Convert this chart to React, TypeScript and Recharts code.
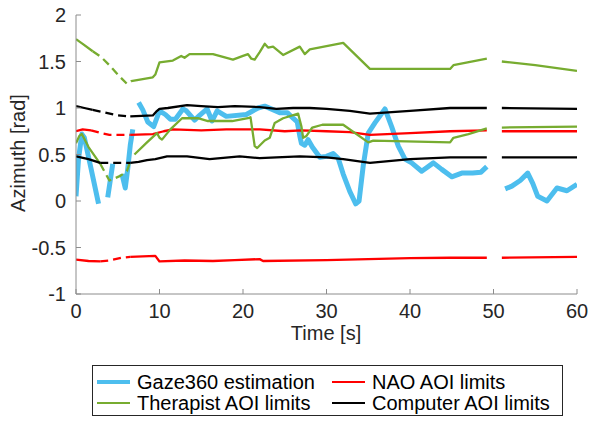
import { LineChart, Line, XAxis, YAxis } from "recharts";

type Pt = [number, number | null];

const BLUE = "#4DBEEE";
const GREEN = "#77AC30";
const RED = "#FF0000";
const BLACK = "#000000";
const AXIS = "#8c8c8c";
const TEXT = "#262626";
const FONT = "'Liberation Sans', Arial, Helvetica, sans-serif";

const xTicks = [0, 10, 20, 30, 40, 50, 60];
const yTicks = [-1, -0.5, 0, 0.5, 1, 1.5, 2];

// Gaze360 estimation (null = gap in the estimate)
const gaze: Pt[] = [
  [0, 0.05], [0.3, 0.45], [0.7, 0.72], [1.0, 0.68], [1.8, 0.35], [2.7, -0.03], [3.2, null],
  [3.8, 0.04], [4.1, 0.22], [4.4, 0.4], [4.9, null],
  [5.5, 0.29], [5.9, 0.14], [6.2, 0.35], [6.5, 0.6], [6.8, 0.77], [7.1, null],
  [7.5, 1.06], [8.0, 0.98], [8.6, 0.85], [9.3, 0.8], [10.0, 0.97], [10.7, 0.93], [11.3, 0.88],
  [11.9, 0.88], [12.8, 0.99], [13.2, 0.97], [14.2, 0.87], [14.8, 0.92], [15.7, 0.99], [16.3, 0.86],
  [16.9, 0.97], [18.0, 0.91], [20.4, 0.93], [21.8, 1.0], [22.6, 1.02], [24.4, 0.95], [25.3, 0.95],
  [26.0, 0.89], [26.5, 0.85], [26.8, 0.7], [27.0, 0.62], [27.4, 0.6], [27.8, 0.66], [28.3, 0.58],
  [29.2, 0.47], [30.0, 0.48], [30.8, 0.51], [31.4, 0.46], [32.0, 0.29], [32.8, 0.1], [33.5, -0.03],
  [33.9, 0.0], [34.4, 0.38], [35.0, 0.73], [35.8, 0.84], [37.0, 0.99], [37.8, 0.8], [38.6, 0.59],
  [39.4, 0.45], [40.2, 0.41], [41.4, 0.32], [42.8, 0.41], [43.8, 0.34], [45.0, 0.26], [46.2, 0.3],
  [47.5, 0.3], [48.5, 0.31], [49.2, 0.37], [50.2, null],
  [51.4, 0.13], [52.2, 0.16], [53.2, 0.22], [54.1, 0.3], [54.7, 0.19], [55.3, 0.05], [56.4, 0.0],
  [57.6, 0.14], [58.8, 0.11], [60, 0.18],
];

// NAO AOI limits
const naoHigh: Pt[] = [
  [0, 0.75], [0.8, 0.77], [1.8, 0.76], [2.2, null],
  [6.5, 0.71], [9.2, 0.72], [10.5, 0.75], [11.6, 0.77], [15, 0.76], [18, 0.77], [22, 0.77],
  [25, 0.75], [27, 0.76], [30, 0.75], [32.8, 0.74], [35.2, 0.71], [40, 0.73], [44.8, 0.75],
  [49.2, 0.76], [50.2, null], [51, 0.75], [60, 0.75],
];
const naoHighDash: Pt[] = [[1.8, 0.76], [3.0, 0.73], [4.0, 0.71], [6.5, 0.71]];

const naoLow: Pt[] = [
  [0, -0.63], [1.5, -0.645], [2.9, -0.65], [3.2, null],
  [6.5, -0.6], [9.5, -0.59], [10.0, -0.65], [13, -0.64], [16.4, -0.645], [19, -0.635],
  [22, -0.625], [22.4, -0.645], [30, -0.635], [40, -0.615], [44.8, -0.61], [49.2, -0.61],
  [50.2, null], [51, -0.61], [60, -0.6],
];
const naoLowDash: Pt[] = [[2.9, -0.65], [4.0, -0.64], [5.5, -0.61], [6.5, -0.6]];

// Therapist AOI limits
const therapistHigh: Pt[] = [
  [0, 1.74], [0.8, 1.69], [2.0, 1.61], [2.4, null],
  [6.6, 1.29], [7.3, 1.3], [9.2, 1.33], [9.5, 1.36], [10.0, 1.49], [11.6, 1.51], [12.6, 1.56],
  [13.0, 1.54], [13.6, 1.58], [16.4, 1.58], [18.8, 1.52], [20.0, 1.56], [20.6, 1.58], [21.0, 1.53],
  [21.4, 1.52], [22.0, 1.6], [22.6, 1.69], [23.0, 1.65], [23.6, 1.66], [24.8, 1.57], [26.8, 1.66],
  [27.4, 1.58], [28.0, 1.63], [32.0, 1.7], [35.2, 1.42], [44.8, 1.42], [45.2, 1.46], [49.2, 1.53],
  [50.2, null], [51.0, 1.5], [55, 1.46], [60, 1.4],
];
const therapistHighDash: Pt[] = [[2.0, 1.61], [3.0, 1.55], [4.0, 1.46], [5.0, 1.36], [6.1, 1.26], [6.6, 1.29]];

const therapistLow: Pt[] = [
  [0, 0.62], [0.4, 0.7], [0.7, 0.72], [1.5, 0.58], [2.9, 0.4], [3.2, null],
  [7.0, 0.5], [8.5, 0.63], [9.7, 0.73], [10.0, 0.68], [10.3, 0.66], [11.3, 0.77], [12.7, 0.89],
  [14.6, 0.89], [15.8, 0.86], [18.7, 0.86], [20.6, 0.89], [20.9, 0.9], [21.4, 0.59], [21.7, 0.57],
  [22.6, 0.65], [23.2, 0.68], [23.8, 0.84], [24.8, 0.89], [26.6, 0.94], [27.0, 0.8], [27.2, 0.68],
  [27.6, 0.7], [28.3, 0.79], [29.5, 0.82], [32.0, 0.82], [35.0, 0.63], [35.6, 0.65], [44.8, 0.63],
  [45.2, 0.68], [47, 0.72], [49.2, 0.78], [50.2, null], [51, 0.79], [60, 0.8],
];
const therapistLowDash: Pt[] = [[2.9, 0.4], [4.0, 0.22], [5.3, 0.27], [6.1, 0.32], [6.4, 0.4]];

// Computer AOI limits
const computerHigh: Pt[] = [
  [0, 1.02], [1.0, 1.0], [2.0, 0.98], [2.4, null],
  [6.5, 0.91], [9.2, 0.92], [9.6, 0.96], [10.0, 0.99], [11.0, 1.0], [13.3, 1.03], [15, 1.02],
  [17, 1.01], [19, 1.02], [22.0, 1.01], [24, 0.99], [26, 1.0], [28, 1.0], [30, 0.99], [32.8, 0.97],
  [35.2, 0.94], [40, 0.97], [44.8, 1.0], [49.2, 1.0], [50.2, null], [51, 1.0], [60, 0.99],
];
const computerHighDash: Pt[] = [[2.0, 0.98], [3.5, 0.95], [5.0, 0.92], [6.5, 0.91]];

const computerLow: Pt[] = [
  [0, 0.48], [1.5, 0.45], [2.9, 0.41], [3.2, null],
  [6.5, 0.41], [7.5, 0.42], [8.5, 0.44], [9.5, 0.45], [10.9, 0.48], [13.3, 0.48], [16, 0.45],
  [19.6, 0.48], [22, 0.46], [24, 0.47], [26.8, 0.48], [30, 0.47], [32, 0.45], [35.2, 0.41],
  [40, 0.45], [44.8, 0.47], [49.2, 0.47], [50.2, null], [51, 0.47], [60, 0.47],
];
const computerLowDash: Pt[] = [[2.9, 0.41], [4.5, 0.41], [6.5, 0.41]];

const pts = (arr: Pt[]) => arr.map(([t, v]) => ({ t, v }));

const XTick = (props: any) => {
  const { x, y, payload } = props;
  return (
    <g>
      <line x1={x} x2={x} y1={y - 8} y2={y - 13} stroke={AXIS} />
      <text x={x} y={y} dy={16} textAnchor="middle" fontSize={20} fill={TEXT} fontFamily={FONT}>
        {payload.value}
      </text>
    </g>
  );
};

const YTick = (props: any) => {
  const { x, y, payload } = props;
  return (
    <g>
      <line x1={x + 10} x2={x + 15} y1={y} y2={y} stroke={AXIS} />
      <text x={x} y={y} dy={7} textAnchor="end" fontSize={20} fill={TEXT} fontFamily={FONT}>
        {payload.value}
      </text>
    </g>
  );
};

function series(data: Pt[], color: string, width: number, dash?: string, key?: string) {
  return (
    <Line
      key={key}
      data={pts(data)}
      dataKey="v"
      type="linear"
      stroke={color}
      strokeWidth={width}
      strokeDasharray={dash}
      strokeLinejoin="round"
      dot={false}
      activeDot={false}
      connectNulls={false}
      isAnimationActive={false}
      legendType="none"
    />
  );
}

function LegendItem({ left, top, color, width, label }: { left: number; top: number; color: string; width: number; label: string }) {
  return (
    <>
      <div style={{ position: "absolute", left, top: top - width / 2, width: 33, height: width, background: color }} />
      <div style={{ position: "absolute", left: left + 40, top: top - 12, fontSize: 20, lineHeight: "24px", color: "#000", whiteSpace: "nowrap" }}>
        {label}
      </div>
    </>
  );
}

export default function App() {
  return (
    <div style={{ position: "absolute", left: 0, top: 0, width: 589, height: 422, background: "#fff", fontFamily: FONT }}>
      <LineChart width={589} height={422} margin={{ top: 15, right: 12, left: 0, bottom: 98 }}>
        <XAxis
          dataKey="t"
          type="number"
          domain={[0, 60]}
          ticks={xTicks}
          allowDataOverflow
          height={30}
          stroke={AXIS}
          tickSize={0}
          tickMargin={8}
          tick={<XTick />}
          label={{
            value: "Time [s]",
            content: () => (
              <text x={326} y={340} textAnchor="middle" fontSize={20} fill={TEXT} fontFamily={FONT}>
                Time [s]
              </text>
            ),
          }}
        />
        <YAxis
          type="number"
          domain={[-1, 2]}
          ticks={yTicks}
          allowDataOverflow
          width={76}
          stroke={AXIS}
          tickSize={0}
          tickMargin={10}
          tick={<YTick />}
          label={{
            value: "Azimuth [rad]",
            content: () => (
              <text x={25} y={153} transform="rotate(-90 25 153)" textAnchor="middle" fontSize={20} fill={TEXT} fontFamily={FONT}>
                Azimuth [rad]
              </text>
            ),
          }}
        />
        {series(gaze, BLUE, 5, undefined, "gaze")}
        {series(naoHigh, RED, 2.3, undefined, "naoH")}
        {series(naoHighDash, RED, 2.3, "8 5", "naoHd")}
        {series(naoLow, RED, 2.3, undefined, "naoL")}
        {series(naoLowDash, RED, 2.3, "8 5", "naoLd")}
        {series(therapistHigh, GREEN, 2.3, undefined, "thH")}
        {series(therapistHighDash, GREEN, 2.3, "8 5", "thHd")}
        {series(therapistLow, GREEN, 2.3, undefined, "thL")}
        {series(therapistLowDash, GREEN, 2.3, "8 5", "thLd")}
        {series(computerHigh, BLACK, 2.3, undefined, "coH")}
        {series(computerHighDash, BLACK, 2.3, "8 5", "coHd")}
        {series(computerLow, BLACK, 2.3, undefined, "coL")}
        {series(computerLowDash, BLACK, 2.3, "8 5", "coLd")}
      </LineChart>
      <div
        style={{
          position: "absolute",
          left: 92,
          top: 365,
          width: 471,
          height: 51,
          boxSizing: "border-box",
          border: "1px solid #262626",
          background: "#fff",
        }}
      >
        <LegendItem left={4} top={16} color={BLUE} width={4.5} label="Gaze360 estimation" />
        <LegendItem left={239} top={16} color={RED} width={2.3} label="NAO AOI limits" />
        <LegendItem left={4} top={37} color={GREEN} width={2.3} label="Therapist AOI limits" />
        <LegendItem left={239} top={37} color={BLACK} width={2.3} label="Computer AOI limits" />
      </div>
    </div>
  );
}
